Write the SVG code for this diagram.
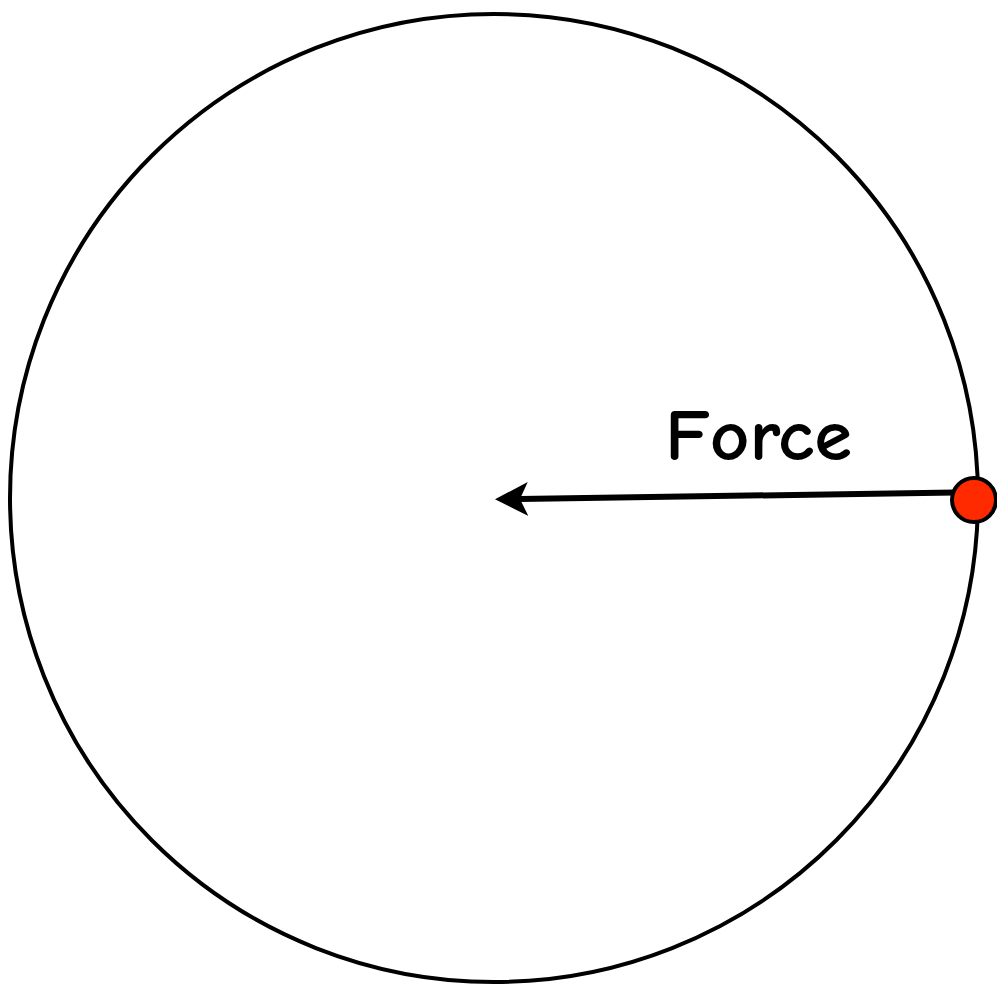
<svg xmlns="http://www.w3.org/2000/svg" width="997" height="987" viewBox="0 0 997 987">
<style>
.orbit{fill:none;stroke:#000;stroke-width:4}
.conn{stroke:#000;stroke-width:6;fill:none}
.lbl{font-family:"Comic Neue","Liberation Sans",sans-serif;font-size:73px;font-weight:bold;fill:#000}
.ball{fill:#ff2a00;stroke:#000;stroke-width:4}
</style>
<defs>
<marker id="ah" markerUnits="userSpaceOnUse" markerWidth="40" markerHeight="40" refX="8" refY="17" orient="auto">
<path d="M33,17 L0,0 L8,17 L0,34 Z" fill="#000"/>
</marker>
</defs>
<rect width="997" height="987" fill="#fff"/>
<g id="orbit"><circle class="orbit" cx="494" cy="498" r="484"/></g>
<g id="connectors">
<line class="conn" x1="955" y1="492.5" x2="520" y2="499" marker-end="url(#ah)"/>
</g>
<g id="label"><text class="lbl" x="665" y="460" textLength="187" lengthAdjust="spacingAndGlyphs">Force</text></g>
<g id="ball"><circle class="ball" cx="974" cy="500" r="22"/></g>
</svg>
